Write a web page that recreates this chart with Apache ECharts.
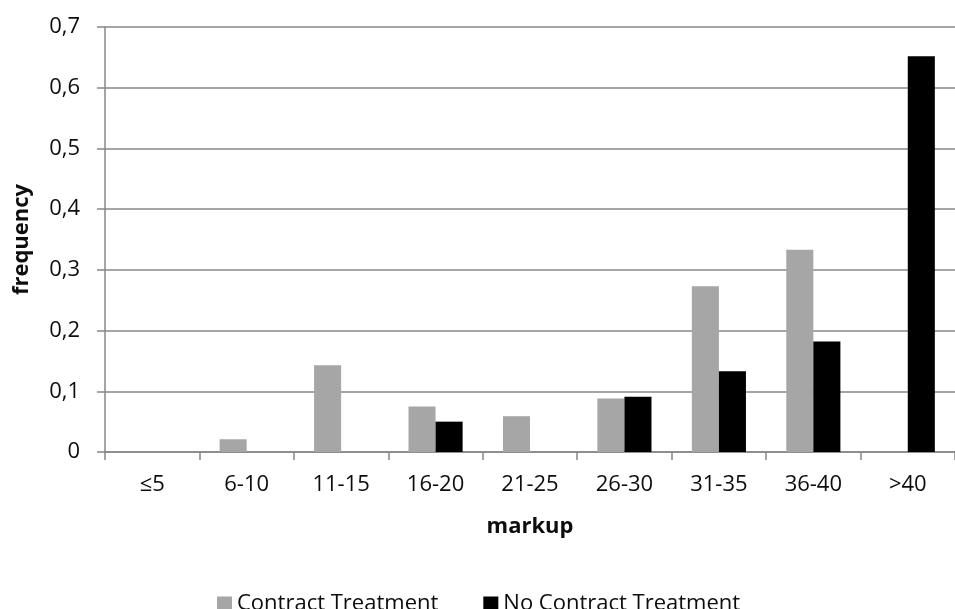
<!DOCTYPE html>
<html>
<head>
<meta charset="utf-8">
<script src="https://cdn.jsdelivr.net/npm/echarts@6/dist/echarts.min.js"></script>
<style>
  html, body { margin: 0; padding: 0; background: #fff; }
  #chart { width: 955px; height: 609px; }
</style>
</head>
<body>
<div id="chart"></div>
<script>
const categories = ['≤5', '6-10', '11-15', '16-20', '21-25', '26-30', '31-35', '36-40', '>40'];
const contractTreatment = [0, 0.021, 0.143, 0.075, 0.059, 0.088, 0.273, 0.333, 0];
const noContractTreatment = [0, 0, 0, 0.05, 0, 0.091, 0.133, 0.182, 0.652];
const seriesNames = ['Contract Treatment', 'No Contract Treatment'];
const yTicks = { min: 0, max: 0.7, interval: 0.1 };

const FONT = "'Open Sans', sans-serif";
const TEXT = '#0d0d0d';
const AXIS = '#878787';

const chart = echarts.init(document.getElementById('chart'), null, { renderer: 'canvas' });
chart.setOption({
  animation: false,
  backgroundColor: '#ffffff',
  textStyle: { fontFamily: FONT },
  grid: { left: 105, top: 27, width: 858, height: 425, containLabel: false },
  legend: {
    left: 212,
    top: 588,
    itemWidth: 15,
    itemHeight: 15,
    itemGap: 45,
    icon: 'rect',
    textStyle: { fontFamily: FONT, fontSize: 22, color: TEXT, padding: [0, 0, 0, 0] },
    data: seriesNames
  },
  xAxis: {
    type: 'category',
    data: categories,
    name: 'markup',
    nameLocation: 'middle',
    nameGap: 64,
    nameTextStyle: { fontFamily: FONT, fontSize: 22, fontWeight: 'bold', color: TEXT },
    axisLine: { lineStyle: { color: AXIS, width: 1.5 } },
    axisTick: { show: true, length: 8, alignWithLabel: false, lineStyle: { color: AXIS, width: 1.5 } },
    axisLabel: { fontFamily: FONT, fontSize: 22, color: TEXT, margin: 22 },
    splitLine: { show: false }
  },
  yAxis: {
    type: 'value',
    min: yTicks.min,
    max: yTicks.max,
    interval: yTicks.interval,
    name: 'frequency',
    nameLocation: 'middle',
    nameGap: 72,
    nameTextStyle: { fontFamily: FONT, fontSize: 22, fontWeight: 'bold', color: TEXT },
    axisLine: { show: true, lineStyle: { color: AXIS, width: 1.5 } },
    axisTick: { show: true, length: 8, lineStyle: { color: AXIS, width: 1.5 } },
    axisLabel: {
      fontFamily: FONT, fontSize: 22, color: TEXT, margin: 25,
      formatter: v => (Math.round(v * 10) / 10).toString().replace('.', ',')
    },
    splitLine: { show: true, lineStyle: { color: AXIS, width: 1.5 } }
  },
  series: [
    {
      name: seriesNames[0],
      type: 'bar',
      data: contractTreatment,
      barGap: '0%',
      barCategoryGap: '42.7%',
      itemStyle: { color: '#a6a6a6' }
    },
    {
      name: seriesNames[1],
      type: 'bar',
      data: noContractTreatment,
      barGap: '0%',
      barCategoryGap: '42.7%',
      itemStyle: { color: '#000000' }
    }
  ]
});
</script>
</body>
</html>
